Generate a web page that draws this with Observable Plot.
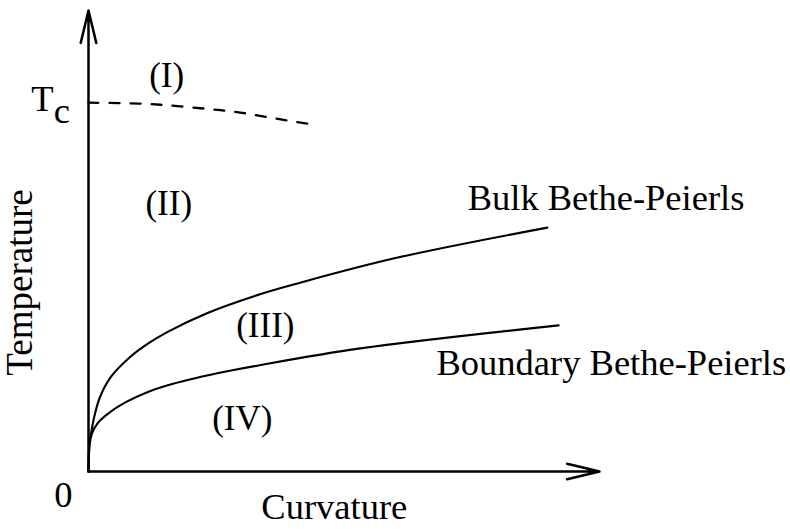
<!DOCTYPE html>
<html>
<head>
<meta charset="utf-8">
<script src="https://cdn.jsdelivr.net/npm/d3@7"></script>
<script src="https://cdn.jsdelivr.net/npm/@observablehq/plot@0.6"></script>
<style>
  html, body { margin: 0; padding: 0; background: #fff; }
  #chart svg { display: block; }
</style>
</head>
<body>
<div id="chart"></div>
<script>
// Schematic phase diagram: Temperature vs Curvature (arbitrary units 0..10)
const Tc = 8;

// Bulk Bethe-Peierls curve
const bulkX = [0, 0.02, 0.06, 0.12, 0.22, 0.43, 0.82, 1.2, 1.55, 2.33, 3.37, 4.09, 6.05, 8.98];
const bulkY = [0, 0.61, 0.89, 1.22, 1.60, 2.04, 2.49, 2.80, 3.03, 3.44, 3.85, 4.08, 4.64, 5.29];

// Boundary Bethe-Peierls curve
const boundX = [0, 0.02, 0.06, 0.18, 0.45, 0.76, 1.15, 1.55, 2.52, 3.37, 5.32, 9.20];
const boundY = [0, 0.56, 0.80, 1.05, 1.31, 1.52, 1.72, 1.87, 2.13, 2.31, 2.67, 3.17];

// Dashed transition line starting at Tc
const dashX = [0, 1.0, 1.6, 2.19, 2.65, 3.07, 3.48, 3.91, 4.31];
const dashY = [Tc, 7.98, 7.94, 7.88, 7.83, 7.77, 7.69, 7.61, 7.54];

// Axis arrows
const axisStart = [0, 0];
const xAxisEnd = [10, 0];
const yAxisEnd = [0, 10];

// Region labels
const regionLabels = ["(I)", "(II)", "(III)", "(IV)"];
const regionX = [1.53, 1.57, 3.46, 3.01];
const regionY = [8.33, 5.57, 2.91, 0.91];

// Curve labels
const curveLabels = ["Bulk Bethe-Peierls", "Boundary Bethe-Peierls"];
const curveLabelX = [7.42, 6.81];
const curveLabelY = [5.68, 2.10];

const bulk = bulkX.map((x, i) => ({x, y: bulkY[i]}));
const bound = boundX.map((x, i) => ({x, y: boundY[i]}));
const dash = dashX.map((x, i) => ({x, y: dashY[i]}));
const arrows = [
  {x1: axisStart[0], y1: axisStart[1], x2: xAxisEnd[0], y2: xAxisEnd[1]},
  {x1: axisStart[0], y1: axisStart[1], x2: yAxisEnd[0], y2: yAxisEnd[1]}
];
const regions = regionLabels.map((t, i) => ({t, x: regionX[i], y: regionY[i]}));
const curveTexts = curveLabels.map((t, i) => ({t, x: curveLabelX[i], y: curveLabelY[i]}));

const FONT = "'Liberation Serif', 'Times New Roman', Times, serif";
const FS = 36.5;

const chart = Plot.plot({
  width: 790,
  height: 529,
  marginLeft: 88,
  marginRight: 191,
  marginTop: 10,
  marginBottom: 58,
  style: {background: "#fff", color: "#000", fontFamily: FONT, overflow: "visible"},
  x: {domain: [0, 10], axis: null},
  y: {domain: [0, 10], axis: null},
  marks: [
    Plot.arrow(arrows, {x1: "x1", y1: "y1", x2: "x2", y2: "y2", stroke: "#000", strokeWidth: 2.5, headAngle: 27, headLength: 20}),
    Plot.line(bulk, {x: "x", y: "y", curve: "catmull-rom", stroke: "#000", strokeWidth: 2.1}),
    Plot.line(bound, {x: "x", y: "y", curve: "catmull-rom", stroke: "#000", strokeWidth: 2.1}),
    Plot.line(dash, {x: "x", y: "y", curve: "catmull-rom", stroke: "#000", strokeWidth: 2.3, strokeDasharray: "10,11"}),
    Plot.text(regions, {x: "x", y: "y", text: "t", textAnchor: "middle", lineAnchor: "bottom", fontSize: 35, fill: "#000"}),
    Plot.text(curveTexts, {x: "x", y: "y", text: "t", textAnchor: "start", lineAnchor: "bottom", fontSize: FS, fill: "#000"}),
    Plot.text(["T"], {x: -1.12, y: 7.83, text: d => d, textAnchor: "start", lineAnchor: "bottom", fontSize: FS, fill: "#000"}),
    Plot.text(["c"], {x: -0.68, y: 7.55, text: d => d, textAnchor: "start", lineAnchor: "bottom", fontSize: FS, fill: "#000"}),
    Plot.text(["0"], {x: -0.49, y: -0.78, text: d => d, textAnchor: "middle", lineAnchor: "bottom", fontSize: FS, fill: "#000"}),
    Plot.text(["Curvature"], {x: 4.81, y: -1.04, text: d => d, textAnchor: "middle", lineAnchor: "bottom", fontSize: FS, fill: "#000"}),
    Plot.text(["Temperature"], {x: -1.10, y: 4.10, text: d => d, rotate: -90, textAnchor: "middle", lineAnchor: "bottom", fontSize: 37, fill: "#000"})
  ]
});
document.getElementById("chart").appendChild(chart);
</script>
</body>
</html>
